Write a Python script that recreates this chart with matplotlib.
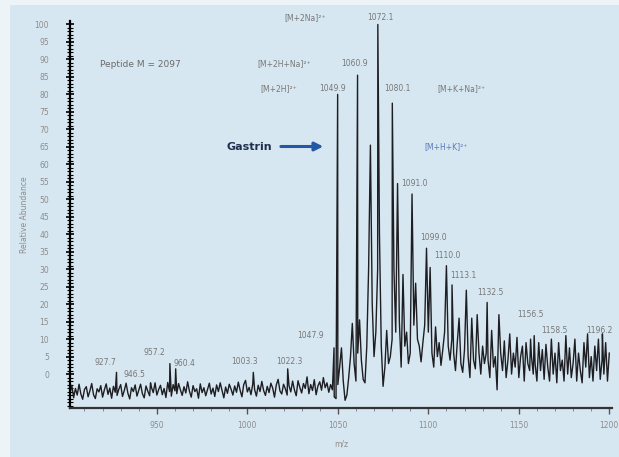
import numpy as np
import matplotlib.pyplot as plt
from matplotlib.patches import Rectangle

# abundance sampled at every integer m/z from 902 to 1200
mz_start = 902
abundance = [
    -5.5, -3.2, -6.8, -4.1, -6.0, -2.9, -5.7, -7.2, -4.4, -3.6,   # 902
    -6.5, -4.8, -2.7, -5.9, -7.0, -4.2, -5.1, -3.3, -6.6, -4.5,   # 912
    -2.8, -5.8, -4.0, -6.9, -3.5, -5.2, -6.1, -4.3, -3.0, -6.4,   # 922
    -4.7, -2.6, -5.5, -7.1, -3.9, -5.0, -3.1, -6.3, -4.6, -2.9,   # 932
    -5.6, -6.8, -3.4, -4.9, -6.2, -3.8, -5.3, -2.5, -6.0, -4.4,   # 942
    -3.2, -5.9, -4.1, -6.7, -2.4, -5.0, -6.3, -3.0, -4.8, -5.6,   # 952
    -2.7, -4.5, -6.1, -3.6, -5.4, -2.2, -4.9, -6.6, -3.3, -5.0,   # 962
    -4.2, -6.9, -2.8, -5.3, -3.9, -6.2, -4.4, -2.6, -5.7, -4.0,   # 972
    -6.4, -3.1, -5.0, -2.5, -4.7, -6.8, -3.7, -5.5, -2.9, -4.3,   # 982
    -6.0, -3.4, -5.2, -2.3, -4.6, -6.5, -3.0, -1.8, -5.1, -3.8,   # 992
    -5.9, -2.8, -4.4, -6.3, -3.2, -5.0, -2.1, -4.7, -6.1, -3.5,   # 1002
    -5.3, -2.6, -4.0, -6.6, -3.1, -1.5, -4.8, -5.7, -2.9, -4.2,   # 1012
    -6.0, -3.3, -5.1, -2.0, -4.5, -6.2, -1.9, -3.8, -5.4, -2.7,   # 1022
    -4.1, -0.8, -5.6, -3.0, -4.7, -1.6, -5.9, -3.4, -2.2, -4.6,   # 1032
    -1.0, -3.9, -2.5, -5.2, -3.0, -4.5, -6.5, -7.0, -3.0, 2.0,    # 1042
    7.5, -2.0, -7.5, -6.0, -1.0, 5.0, 14.5, 3.0, -2.0, 6.0,       # 1052
    15.5, 4.0, -1.5, -2.5, 8.0, 30.0, 65.5, 20.0, 5.0, 12.0,      # 1062
    30.0, 40.0, 8.0, -3.5, 2.0, 12.5, 3.0, 5.0, 10.0, 30.0,       # 1072
    12.0, 54.5, 15.0, 2.0, 28.5, 8.0, 12.0, 3.0, 6.0, 51.5,       # 1082
    14.0, 26.0, 10.0, 8.0, 3.5, 9.0, 14.0, 36.0, 12.0, 30.5,      # 1092
    6.0, 2.0, 13.5, 5.0, 9.0, 2.5, 7.0, 12.0, 31.0, 8.0,          # 1102
    4.0, 10.0, 6.0, 1.0, 9.0, 16.0, 3.0, 0.5, 7.0, 24.0,          # 1112
    5.0, -1.0, 16.0, 4.0, 1.5, 17.0, 6.0, 0.0, 8.0, 3.0,          # 1122
    6.0, 4.0, -1.0, 12.5, 2.0, 5.0, -4.5, 17.0, 6.0, 1.0,         # 1132
    9.5, -1.0, 4.0, 11.5, 0.0, 6.0, 2.0, 10.5, -1.0, 5.0,         # 1142
    8.0, -2.0, 9.0, 3.0, 1.0, 5.0, 0.0, 3.0, -2.0, 9.0,           # 1152
    1.0, 7.0, -1.5, 8.5, 2.0, -2.0, 10.0, 0.0, 6.0, -2.5,         # 1162
    9.0, 1.0, 4.0, -2.0, 11.0, 0.0, 7.5, -1.0, 3.0, 10.0,         # 1172
    -2.0, 6.0, 1.0, -2.5, 9.0, 2.0, 11.5, -1.0, 5.0, -2.0,        # 1182
    8.0, 1.0, 10.0, -1.5, 4.0, 0.0, 9.0, -2.0, 6.0,               # 1192
]

# labelled peaks
peak_mz = [927.7, 946.5, 957.2, 960.4, 1003.3, 1022.3, 1047.9, 1049.9,
           1060.9, 1072.1, 1080.1, 1091.0, 1099.0, 1110.0, 1113.1,
           1132.5, 1156.5, 1158.5, 1196.2]
peak_height = [0.5, -2.5, 3.0, 1.5, 0.5, 1.5, 7.5, 80.0,
               85.5, 100.0, 77.5, 51.5, 36.0, 31.0, 25.5,
               20.5, 10.0, 11.0, 11.5]

ions = ['[M+2H]²⁺', '[M+2H+Na]²⁺', '[M+2Na]²⁺', '[M+K+Na]²⁺', '[M+H+K]²⁺']

# merge the sampled trace with the peak apexes
points = dict(zip(mz_start + np.arange(len(abundance)), abundance))
points.update(zip(peak_mz, peak_height))
mz = np.array(sorted(points))
ab = np.array([points[m] for m in mz])

fig = plt.figure(figsize=(6.19, 4.57), dpi=100, facecolor='#edf4f8')
fig.patches.append(Rectangle((10 / 619, 0), 1, 452 / 457, transform=fig.transFigure,
                             facecolor='#d7e7f1', edgecolor='none', zorder=-1))
ax = fig.add_axes([70 / 619, 49 / 457, 542 / 619, 387 / 457])
ax.set_facecolor('none')

ax.plot(mz, ab, color='#1e1e22', lw=1.0)

ax.set_xlim(902, 1201.5)
ax.set_ylim(-9.7, 101)
ax.set_xticks(np.arange(950, 1201, 50))
ax.set_xticks(np.arange(910, 1201, 10), minor=True)
ax.set_yticks(np.arange(0, 101, 5))
ax.set_yticks(np.arange(-9, 101, 1), minor=True)

grey = '#8c8c8c'
ax.tick_params(axis='y', which='major', direction='inout', length=6, width=1.2,
               labelsize=5.5, labelcolor=grey, pad=12)
ax.tick_params(axis='y', which='minor', direction='inout', length=4, width=0.8)
ax.tick_params(axis='x', which='major', direction='out', length=4, width=1,
               labelsize=5.5, labelcolor=grey, pad=5, color='#555555')
ax.tick_params(axis='x', which='minor', direction='out', length=2.5, width=0.6,
               color='#777777')
for s in ['top', 'right']:
    ax.spines[s].set_visible(False)
ax.spines['left'].set_linewidth(1.6)
ax.spines['bottom'].set_linewidth(1.6)
ax.spines['bottom'].set_color('#333333')

ax.set_ylabel('Relative Abundance', fontsize=5.5, color=grey, labelpad=4)
ax.set_xlabel('m/z', fontsize=5.5, color=grey, labelpad=7)

# peak labels
label_xy = [(921.8, 3.4), (937.7, 0.0), (948.7, 6.3), (965.2, 3.1),
            (998.7, 3.7), (1023.4, 3.7), (1035.0, 11.1), (1047.1, 81.7),
            (1059.1, 88.9), (1073.4, 102.0), (1082.8, 81.7), (1092.1, 54.6),
            (1103.1, 39.1), (1110.8, 34.0), (1119.6, 28.3), (1134.4, 23.4),
            (1156.5, 17.1), (1169.5, 12.6), (1194.5, 12.6)]
for m, (tx, ty) in zip(peak_mz, label_xy):
    ax.text(tx, ty, f'{m:.1f}', fontsize=5.5, color='#777777',
            ha='center', va='center', clip_on=False)

ion_xy = [(1017.4, 81.7), (1020.1, 88.9), (1032.2, 102.0), (1118.5, 81.7),
          (1109.7, 65.1)]
ion_colors = ['#777777', '#777777', '#777777', '#777777', '#5b78b8']
for name, (tx, ty), c in zip(ions, ion_xy, ion_colors):
    ax.text(tx, ty, name, fontsize=5.5, color=c, ha='center', va='center',
            clip_on=False)

ax.text(918.5, 88.6, 'Peptide M = 2097', fontsize=6.5, color='#6a6a6a',
        ha='left', va='center')
ax.text(1000.9, 65.1, 'Gastrin', fontsize=8, fontweight='bold', color='#1f2f4f',
        ha='center', va='center')
ax.annotate('', xy=(1043.5, 65.1), xytext=(1017.0, 65.1),
            arrowprops=dict(arrowstyle='-|>,head_length=0.5,head_width=0.25',
                            color='#2457a6', lw=2.2))

fig.savefig('out.png', dpi=100, facecolor=fig.get_facecolor())
